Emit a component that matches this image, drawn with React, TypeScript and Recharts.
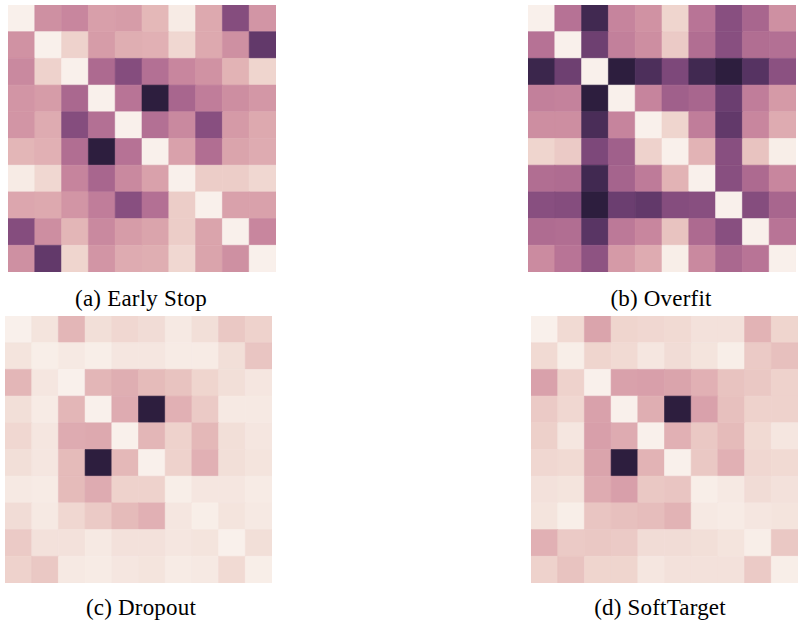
import { BarChart, Bar, Cell, XAxis, YAxis } from 'recharts';

// cell levels, 0 = lightest, 1 = darkest (row by row)
const earlyStop = [
  [0.0, 0.38, 0.42, 0.32, 0.33, 0.22, 0.02, 0.28, 0.7, 0.36],
  [0.37, 0.0, 0.12, 0.33, 0.26, 0.25, 0.1, 0.28, 0.38, 0.82],
  [0.41, 0.12, 0.0, 0.55, 0.7, 0.52, 0.42, 0.37, 0.24, 0.11],
  [0.36, 0.33, 0.56, 0.0, 0.5, 1.0, 0.57, 0.46, 0.39, 0.35],
  [0.36, 0.27, 0.7, 0.52, 0.0, 0.52, 0.41, 0.69, 0.34, 0.28],
  [0.23, 0.25, 0.53, 1.0, 0.51, 0.0, 0.31, 0.53, 0.3, 0.27],
  [0.02, 0.1, 0.43, 0.57, 0.41, 0.31, 0.0, 0.14, 0.14, 0.1],
  [0.29, 0.28, 0.36, 0.46, 0.69, 0.52, 0.14, 0.0, 0.31, 0.31],
  [0.7, 0.39, 0.23, 0.41, 0.33, 0.3, 0.14, 0.3, 0.0, 0.42],
  [0.38, 0.82, 0.11, 0.36, 0.27, 0.26, 0.1, 0.3, 0.38, 0.0],
];

const overfit = [
  [0.0, 0.51, 0.93, 0.43, 0.37, 0.11, 0.5, 0.69, 0.57, 0.38],
  [0.51, 0.0, 0.78, 0.45, 0.39, 0.15, 0.53, 0.69, 0.53, 0.52],
  [0.95, 0.78, 0.0, 1.0, 0.89, 0.73, 0.93, 1.0, 0.86, 0.68],
  [0.45, 0.44, 1.0, 0.0, 0.43, 0.6, 0.57, 0.79, 0.46, 0.34],
  [0.39, 0.39, 0.9, 0.43, 0.0, 0.11, 0.46, 0.82, 0.42, 0.27],
  [0.11, 0.15, 0.73, 0.6, 0.12, 0.0, 0.24, 0.69, 0.18, 0.01],
  [0.53, 0.54, 0.93, 0.58, 0.47, 0.24, 0.0, 0.69, 0.55, 0.42],
  [0.69, 0.7, 1.0, 0.79, 0.82, 0.7, 0.69, 0.0, 0.7, 0.57],
  [0.54, 0.53, 0.85, 0.48, 0.42, 0.18, 0.55, 0.69, 0.0, 0.5],
  [0.4, 0.5, 0.67, 0.34, 0.27, 0.01, 0.41, 0.56, 0.5, 0.0],
];

const dropout = [
  [0.0, 0.05, 0.23, 0.07, 0.1, 0.08, 0.03, 0.07, 0.16, 0.12],
  [0.05, 0.01, 0.03, 0.01, 0.04, 0.04, 0.02, 0.02, 0.07, 0.17],
  [0.23, 0.04, 0.0, 0.23, 0.26, 0.21, 0.18, 0.11, 0.07, 0.04],
  [0.07, 0.02, 0.23, 0.0, 0.27, 1.0, 0.25, 0.15, 0.03, 0.03],
  [0.1, 0.04, 0.27, 0.28, 0.0, 0.23, 0.12, 0.22, 0.07, 0.04],
  [0.07, 0.04, 0.21, 1.0, 0.22, 0.0, 0.12, 0.25, 0.07, 0.05],
  [0.03, 0.02, 0.21, 0.27, 0.12, 0.12, 0.01, 0.04, 0.04, 0.02],
  [0.08, 0.03, 0.1, 0.15, 0.21, 0.25, 0.04, 0.01, 0.05, 0.03],
  [0.15, 0.06, 0.06, 0.03, 0.06, 0.06, 0.04, 0.05, 0.0, 0.07],
  [0.12, 0.16, 0.03, 0.02, 0.04, 0.05, 0.02, 0.03, 0.09, 0.01],
];

const softTarget = [
  [0.0, 0.09, 0.3, 0.11, 0.1, 0.09, 0.06, 0.06, 0.24, 0.11],
  [0.09, 0.01, 0.11, 0.09, 0.04, 0.08, 0.05, 0.01, 0.15, 0.19],
  [0.31, 0.12, 0.0, 0.31, 0.32, 0.3, 0.25, 0.18, 0.16, 0.12],
  [0.15, 0.1, 0.31, 0.0, 0.26, 1.0, 0.31, 0.19, 0.12, 0.12],
  [0.13, 0.04, 0.32, 0.27, 0.0, 0.25, 0.16, 0.21, 0.09, 0.04],
  [0.1, 0.09, 0.3, 1.0, 0.24, 0.0, 0.16, 0.25, 0.1, 0.09],
  [0.06, 0.05, 0.27, 0.32, 0.16, 0.17, 0.01, 0.03, 0.08, 0.06],
  [0.05, 0.01, 0.17, 0.19, 0.2, 0.24, 0.03, 0.02, 0.04, 0.05],
  [0.25, 0.15, 0.16, 0.15, 0.08, 0.08, 0.07, 0.05, 0.01, 0.16],
  [0.12, 0.18, 0.11, 0.11, 0.04, 0.06, 0.06, 0.06, 0.15, 0.01],
];

const captions = ['(a) Early Stop', '(b) Overfit', '(c) Dropout', '(d) SoftTarget'];

// seaborn-ish cubehelix palette (start 0, rot .4, hue .8), light .95 -> dark .15
function cubehelix(t: number) {
  const x = 0.95 - 0.8 * t;
  const phi = 2 * Math.PI * (0.4 * x);
  const a = (0.8 * x * (1 - x)) / 2;
  const c = Math.cos(phi);
  const s = Math.sin(phi);
  const r = x + a * (-0.14861 * c + 1.78277 * s);
  const g = x + a * (-0.29227 * c - 0.90649 * s);
  const b = x + a * (1.97294 * c);
  const to = (v: number) => Math.round(Math.max(0, Math.min(1, v)) * 255);
  return `rgb(${to(r)},${to(g)},${to(b)})`;
}

const rowKeys = earlyStop.map((_, i) => `r${i}`);

function Heatmap({ matrix, width, height }: { matrix: number[][]; width: number; height: number }) {
  // one entry per column, each row stacked as a unit block
  const data = matrix[0].map((_, col) => {
    const d: Record<string, number> = { col };
    rowKeys.forEach((k) => (d[k] = 1));
    return d;
  });
  return (
    <BarChart width={width} height={height} data={data} margin={{ top: 0, right: 0, bottom: 0, left: 0 }}
      barCategoryGap={0} barGap={0}>
      <XAxis dataKey="col" hide />
      <YAxis hide domain={[0, 10]} reversed />
      {rowKeys.map((k, row) => (
        <Bar key={k} dataKey={k} stackId="m" isAnimationActive={false}>
          {data.map((_, col) => {
            const fill = cubehelix(matrix[row][col]);
            return <Cell key={col} fill={fill} stroke={fill} strokeWidth={0.6} />;
          })}
        </Bar>
      ))}
    </BarChart>
  );
}

const captionStyle = {
  position: 'absolute' as const,
  width: 268,
  textAlign: 'center' as const,
  fontFamily: '"Liberation Serif", "Times New Roman", serif',
  fontSize: 23,
  letterSpacing: 0.2,
  lineHeight: '22px',
  color: '#000',
  whiteSpace: 'nowrap' as const,
};

export default function App() {
  return (
    <div style={{ position: 'absolute', left: 0, top: 0, width: 800, height: 621, background: '#fff' }}>
      <div style={{ position: 'absolute', left: 8, top: 5 }}>
        <Heatmap matrix={earlyStop} width={268} height={267} />
      </div>
      <div style={{ position: 'absolute', left: 528, top: 5 }}>
        <Heatmap matrix={overfit} width={268} height={267} />
      </div>
      <div style={{ position: 'absolute', left: 5, top: 316 }}>
        <Heatmap matrix={dropout} width={267} height={267} />
      </div>
      <div style={{ position: 'absolute', left: 531, top: 316 }}>
        <Heatmap matrix={softTarget} width={267} height={267} />
      </div>
      <div style={{ ...captionStyle, left: 7, top: 288 }}>{captions[0]}</div>
      <div style={{ ...captionStyle, left: 527, top: 288 }}>{captions[1]}</div>
      <div style={{ ...captionStyle, left: 7, top: 597 }}>{captions[2]}</div>
      <div style={{ ...captionStyle, left: 526, top: 597 }}>{captions[3]}</div>
    </div>
  );
}
